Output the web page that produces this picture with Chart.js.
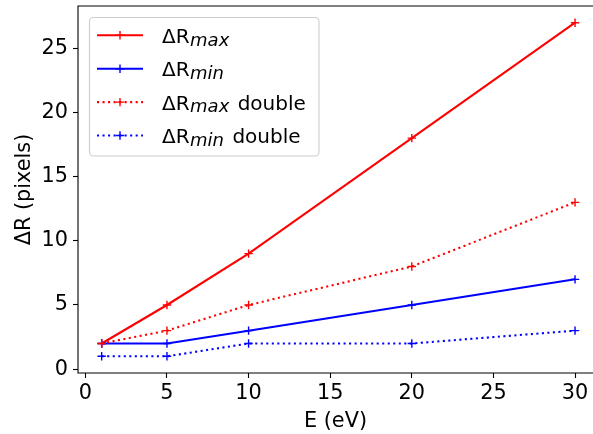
<!DOCTYPE html>
<html>
<head>
<meta charset="utf-8">
<script src="https://cdn.jsdelivr.net/npm/chart.js@4"></script>
<style>
  body { margin: 0; background: #fff; overflow: hidden; }
</style>
</head>
<body>
<canvas id="chart" width="593" height="434"></canvas>
<script>
// data
const energies = [1, 5, 10, 20, 30];
const dRmax = [2, 5, 9, 18, 27];
const dRmin = [2, 2, 3, 5, 7];
const dRmaxDouble = [2, 3, 5, 8, 13];
const dRminDouble = [1, 1, 2, 2, 3];

const xTicks = [0, 5, 10, 15, 20, 25, 30];
const yTicks = [0, 5, 10, 15, 20, 25];

// legend text: main part, subscript, trailing
const legendParts = [
    ['ΔR', 'max', ''],
    ['ΔR', 'min', ''],
    ['ΔR', 'max', ' double'],
    ['ΔR', 'min', ' double']
];

const FONT = '"DejaVu Sans", sans-serif';
const FS = 20.8;
const LW = 2.08;
const DOT = [2.08, 3.44];

function pts(ys) {
    return energies.map((e, i) => ({ x: e, y: ys[i] }));
}

function series(label, ys, color, dotted, order) {
    return {
        label: label,
        data: pts(ys),
        borderColor: color,
        backgroundColor: color,
        borderWidth: LW,
        borderDash: dotted ? DOT : [],
        borderCapStyle: 'butt',
        tension: 0,
        pointStyle: 'cross',
        pointRadius: 4.2,
        pointHoverRadius: 4.2,
        pointBorderWidth: 1.4,
        pointBorderColor: color,
        order: order
    };
}

// spines + legend drawn on top, like matplotlib.
// the picture is cropped just before the right spine, so only left/top/bottom are drawn
const framePlugin = {
    id: 'frame',
    afterDraw(chart) {
        const c = chart.ctx;
        const a = chart.chartArea;
        c.save();
        c.strokeStyle = '#000';
        c.lineWidth = 1.1;
        c.beginPath();
        c.moveTo(chart.width, a.top);
        c.lineTo(a.left, a.top);
        c.lineTo(a.left, a.bottom);
        c.lineTo(chart.width, a.bottom);
        c.stroke();

        // legend box
        const bx = 89.5, by = 17.5, bw = 229.5, bh = 138.5, r = 4;
        c.beginPath();
        c.roundRect(bx, by, bw, bh, r);
        c.fillStyle = 'rgba(255,255,255,0.8)';
        c.fill();
        c.strokeStyle = '#cccccc';
        c.lineWidth = 1.1;
        c.stroke();

        const ds = chart.data.datasets;
        ds.forEach((d, i) => {
            const y = 35.3 + i * 33.4;
            c.strokeStyle = d.borderColor;
            c.lineWidth = LW;
            c.setLineDash(d.borderDash);
            c.lineCap = 'butt';
            c.beginPath();
            c.moveTo(97, y);
            c.lineTo(143, y);
            c.stroke();
            c.setLineDash([]);
            c.lineWidth = 1.4;
            c.beginPath();
            c.moveTo(120 - 4.2, y);
            c.lineTo(120 + 4.2, y);
            c.moveTo(120, y - 4.2);
            c.lineTo(120, y + 4.2);
            c.stroke();

            const p = legendParts[i];
            c.fillStyle = '#000';
            c.textBaseline = 'alphabetic';
            c.textAlign = 'left';
            let tx = 162;
            const base = y + 7.5;
            c.font = '20px ' + FONT;
            c.fillText(p[0], tx, base);
            tx += c.measureText(p[0]).width + 0.5;
            c.font = 'italic 18px ' + FONT;
            c.fillText(p[1], tx, base + 2.7);
            tx += c.measureText(p[1]).width + 2;
            c.font = '20px ' + FONT;
            c.fillText(p[2], tx, base);
        });
        c.restore();
    }
};

new Chart(document.getElementById('chart'), {
    type: 'line',
    data: {
        datasets: [
            series('ΔRmax', dRmax, '#ff0000', false, 3),
            series('ΔRmin', dRmin, '#0000ff', false, 2),
            series('ΔRmax double', dRmaxDouble, '#ff0000', true, 1),
            series('ΔRmin double', dRminDouble, '#0000ff', true, 0)
        ]
    },
    options: {
        responsive: false,
        animation: false,
        layout: { autoPadding: false, padding: { top: 6, right: 0, left: 0, bottom: 0 } },
        plugins: {
            legend: { display: false },
            tooltip: { enabled: false }
        },
        scales: {
            x: {
                type: 'linear',
                min: -0.45,
                max: 31.1,   // visible part of the axis (picture is cut at the right)
                afterBuildTicks: (s) => { s.ticks = xTicks.map(v => ({ value: v })); },
                afterFit: (s) => { s.height = 61; s.paddingLeft = 0; s.paddingRight = 0; },
                border: { display: false },
                grid: { drawOnChartArea: false, drawTicks: true, tickLength: 5, tickWidth: 1.1, tickColor: '#000' },
                ticks: { color: '#000', font: { family: FONT, size: FS }, padding: 3, maxRotation: 0 },
                title: { display: true, text: 'E (eV)', color: '#000', font: { family: FONT, size: FS }, padding: 0 }
            },
            y: {
                min: -0.3,
                max: 28.3,
                afterBuildTicks: (s) => { s.ticks = yTicks.map(v => ({ value: v })); },
                afterFit: (s) => { s.width = 78; s.paddingTop = 0; s.paddingBottom = 0; },
                border: { display: false },
                grid: { drawOnChartArea: false, drawTicks: true, tickLength: 5, tickWidth: 1.1, tickColor: '#000' },
                ticks: { color: '#000', font: { family: FONT, size: FS }, padding: 5 },
                title: { display: true, text: 'ΔR (pixels)', color: '#000', font: { family: FONT, size: FS }, padding: { top: 12, bottom: 0 } }
            }
        }
    },
    plugins: [framePlugin]
});
</script>
</body>
</html>
